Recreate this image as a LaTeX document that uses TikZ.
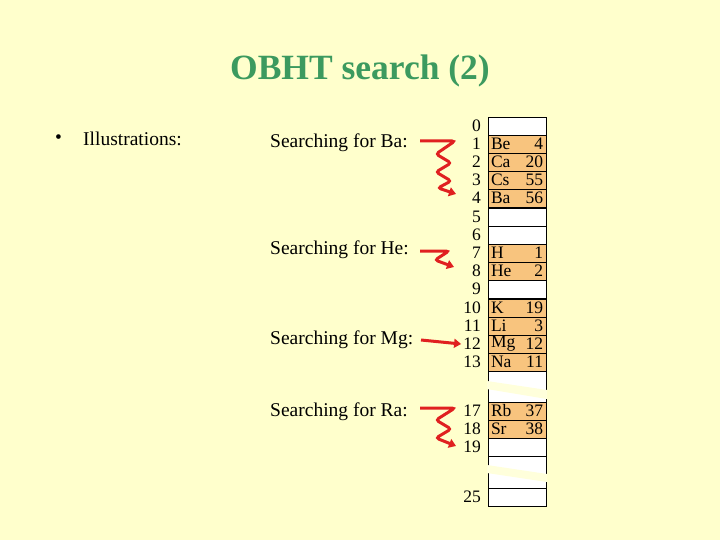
\documentclass[tikz,border=0pt]{standalone}
\usepackage{fontspec}
\setmainfont{Liberation Serif}
\usetikzlibrary{arrows.meta}
\definecolor{bgyellow}{HTML}{FFFFCC}
\definecolor{titlegreen}{HTML}{3C9A5F}
\definecolor{cellorange}{HTML}{F8C47E}
\definecolor{arrowred}{HTML}{E02020}
\tikzset{
  txt/.style={font=\fontsize{19.5}{20}\selectfont, inner sep=0pt},
  tab/.style={font=\fontsize{17.5}{18}\selectfont, inner sep=0pt},
  idx/.style={tab, anchor=east},
  cell/.style={draw, minimum width=58pt, minimum height=18.2pt, inner sep=2pt, fill=white},
  full/.style={cell, fill=cellorange},
  probe/.style={draw=arrowred, line width=3pt, rounded corners=3pt, -{Triangle[length=7pt,width=9pt]}},
}
\newcommand{\entry}[4]{% row, y, symbol, value
  \node[full] (c#1) at (517,#2) {};
  \node[tab, anchor=west] at ([xshift=3pt]c#1.west) {#3};
  \node[tab, anchor=east] at ([xshift=-3pt]c#1.east) {#4};
  \node[idx] (i#1) at (481,#2) {#1};}
\newcommand{\blank}[2]{% row, y
  \node[cell] (c#1) at (517,#2) {};
  \node[idx] (i#1) at (481,#2) {#1};}
\begin{document}
\begin{tikzpicture}[x=1pt,y=-1pt]
  \fill[bgyellow] (0,0) rectangle (720,540);
  \useasboundingbox (0,0) rectangle (720,540);
  \node[font=\bfseries\fontsize{35.5}{36}\selectfont, text=titlegreen] (title) at (360,71) {OBHT search (2)};
  \node[txt, anchor=west] (bul) at (55,139) {\textbullet};
  \node[txt, anchor=west] (ill) at (83,139) {Illustrations:};

  % table
  \blank{0}{126}
  \entry{1}{144}{Be}{4}
  \entry{2}{162}{Ca}{20}
  \entry{3}{180}{Cs}{55}
  \entry{4}{198}{Ba}{56}
  \blank{5}{217}
  \blank{6}{235}
  \entry{7}{253}{H}{1}
  \entry{8}{271}{He}{2}
  \blank{9}{289}
  \entry{10}{308}{K}{19}
  \entry{11}{326}{Li}{3}
  \entry{12}{344}{Mg}{12}
  \entry{13}{362}{Na}{11}
  \entry{17}{411}{Rb}{37}
  \entry{18}{429}{Sr}{38}
  \blank{19}{447}
  \blank{25}{497}
  % gaps
  \draw[fill=white] (488,371) rectangle (546,402);
  \draw[fill=white] (488,456) rectangle (546,488);
  \fill[bgyellow!70!white] (487,381) -- (547,390) -- (547,399) -- (487,389) -- cycle;
  \fill[bgyellow!70!white] (487,465) -- (547,474) -- (547,482) -- (487,473) -- cycle;

  % searches
  \node[txt, anchor=west] (sBa) at (270,143) {Searching for Ba:};
  \node[txt, anchor=west] (sHe) at (270,250) {Searching for He:};
  \node[txt, anchor=west] (sMg) at (270,340) {Searching for Mg:};
  \node[txt, anchor=west] (sRa) at (270,412) {Searching for Ra:};

  \draw[probe] (420,141) -- (455,141) -- (436,154) -- (451,163) -- (436,172)
    -- (451,181) -- (438,188) -- (456,194);
  \draw[probe] (420,251) -- (449,251) -- (435,260) -- (454,267);
  \draw[probe] (421,340) -- ([xshift=-2pt]i12.west);
  \draw[probe] (420,408) -- (455,408) -- (436,420) -- (451,429) -- (436,438)
    -- (456,446);
\end{tikzpicture}
\end{document}
